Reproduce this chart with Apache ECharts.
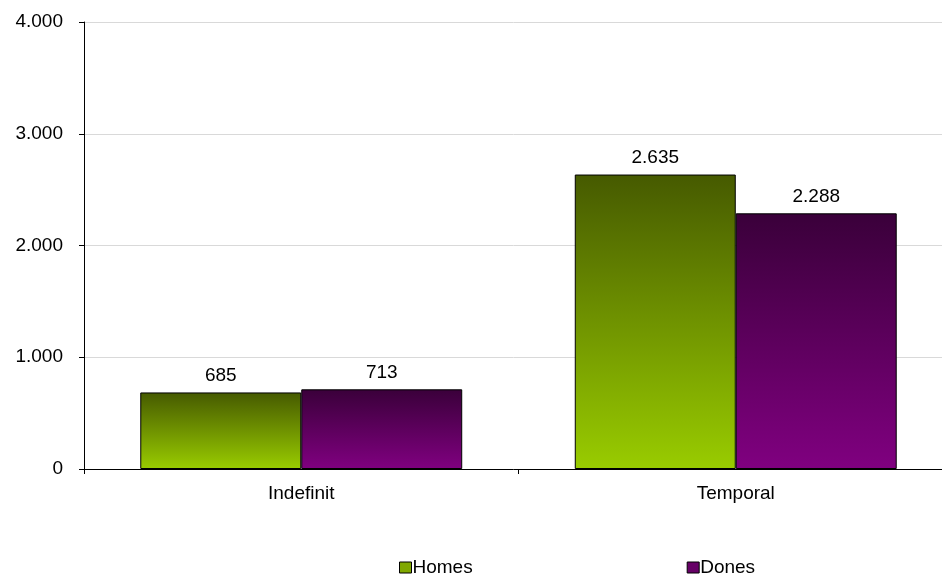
<!DOCTYPE html>
<html>
<head>
<meta charset="utf-8">
<script src="https://cdn.jsdelivr.net/npm/echarts@6/dist/echarts.min.js"></script>
<style>html,body{margin:0;padding:0;background:#fff;}#c{width:942px;height:574px;}</style>
</head>
<body>
<div id="c"></div>
<script>
const categories = ['Indefinit', 'Temporal'];
const homes = [685, 2635];
const dones = [713, 2288];
const yTicks = [0, 1000, 2000, 3000, 4000];

function fmt(v) {
  return String(v).replace(/\B(?=(\d{3})+(?!\d))/g, '.');
}
const font = 'Liberation Sans, Arial, sans-serif';
const fs = 19;
const chart = echarts.init(document.getElementById('c'));
const grad = (top, bottom) => new echarts.graphic.LinearGradient(0, 0, 0, 1, [
  { offset: 0, color: top }, { offset: 1, color: bottom }
]);
chart.setOption({
  animation: false,
  grid: { left: 84, width: 869, top: 22, height: 447, containLabel: false, outerBoundsMode: 'none' },
  legend: {
    top: 553, left: 394, itemGap: 214, itemWidth: 12, itemHeight: 11, icon: 'rect',
    textStyle: { fontFamily: font, fontSize: fs, color: '#000', padding: [0, 0, 0, -4] },
    data: [
      { name: 'Homes', itemStyle: { color: '#80a800', borderColor: '#000', borderWidth: 1 } },
      { name: 'Dones', itemStyle: { color: '#660066', borderColor: '#000', borderWidth: 1 } }
    ]
  },
  xAxis: {
    type: 'category', data: categories,
    axisLine: { lineStyle: { color: '#000', width: 1 } },
    axisTick: { show: true, alignWithLabel: false, length: 5, lineStyle: { color: '#000' } },
    axisLabel: { fontFamily: font, fontSize: fs, color: '#000', margin: 15 }
  },
  yAxis: {
    type: 'value', min: yTicks[0], max: yTicks[yTicks.length - 1], interval: 1000,
    axisLine: { show: true, lineStyle: { color: '#000', width: 1 } },
    axisTick: { show: true, length: 5, lineStyle: { color: '#000' } },
    splitLine: { lineStyle: { color: '#d9d9d9', width: 1 } },
    axisLabel: { fontFamily: font, fontSize: fs, color: '#000', margin: 21, formatter: v => fmt(v) }
  },
  series: [
    {
      name: 'Homes', type: 'bar', data: homes, barGap: '0%', barCategoryGap: '25.9%',
      itemStyle: { color: grad('#465a00', '#99cc00'), borderColor: '#000', borderWidth: 1 },
      label: { show: true, position: 'top', distance: 7, fontFamily: font, fontSize: fs, color: '#000', formatter: p => fmt(p.value) }
    },
    {
      name: 'Dones', type: 'bar', data: dones,
      itemStyle: { color: grad('#3a003a', '#800080'), borderColor: '#000', borderWidth: 1 },
      label: { show: true, position: 'top', distance: 7, fontFamily: font, fontSize: fs, color: '#000', formatter: p => fmt(p.value) }
    }
  ]
});
</script>
</body>
</html>
